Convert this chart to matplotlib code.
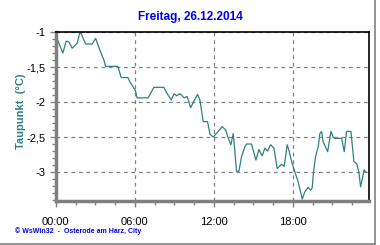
import matplotlib.pyplot as plt
from matplotlib.lines import Line2D
from matplotlib.ticker import MultipleLocator, FuncFormatter

plt.rcParams['font.family'] = 'Liberation Sans'

# Taupunkt readings, time in hours since 00:00
hours = [0.0, 0.15, 0.53, 0.78, 0.99, 1.24, 1.50, 1.62, 1.80, 1.92, 2.26, 2.76,
         3.02, 3.39, 3.65, 3.77, 4.71, 4.96, 5.47, 5.62, 6.05, 6.17, 7.01, 7.44,
         8.20, 8.45, 8.76, 8.98, 9.17, 9.42, 9.74, 9.97, 10.23, 10.76, 10.94,
         11.19, 11.52, 11.70, 11.95, 12.33, 12.63, 12.89, 13.14, 13.29, 13.47,
         13.54, 13.72, 13.90, 14.10, 14.35, 14.48, 14.86, 15.19, 15.42, 15.67,
         15.87, 16.08, 16.31, 16.56, 16.81, 17.14, 17.34, 17.57, 17.70, 17.90,
         18.15, 18.40, 18.58, 18.71, 18.91, 19.16, 19.34, 19.46, 19.57, 19.72,
         19.92, 20.05, 20.18, 20.30, 20.64, 20.76, 20.89, 21.06, 21.19, 21.70,
         21.90, 22.08, 22.41, 22.63, 22.84, 23.01, 23.14, 23.26, 23.41, 23.54]
taupunkt = [-1.08, -1.12, -1.30, -1.13, -1.14, -1.23, -1.18, -1.16, -1.02, -1.02,
            -1.17, -1.17, -1.09, -1.28, -1.40, -1.49, -1.49, -1.65, -1.65, -1.71,
            -1.84, -1.94, -1.94, -1.79, -1.79, -1.88, -1.97, -1.88, -1.91, -1.88,
            -1.94, -1.92, -2.08, -1.89, -1.97, -2.28, -2.28, -2.46, -2.50, -2.42,
            -2.35, -2.40, -2.54, -2.61, -2.45, -2.59, -2.99, -2.99, -2.78, -2.64,
            -2.60, -2.60, -2.83, -2.68, -2.77, -2.66, -2.70, -2.61, -2.66, -2.95,
            -2.89, -2.92, -2.61, -2.69, -2.85, -3.00, -3.14, -3.28, -3.39, -3.28,
            -3.22, -3.26, -3.23, -3.00, -2.78, -2.64, -2.45, -2.42, -2.57, -2.71,
            -2.57, -2.42, -2.50, -2.52, -2.52, -2.71, -2.42, -2.42, -2.85, -2.88,
            -3.00, -3.21, -3.11, -2.97, -3.00]

fig = plt.figure(figsize=(3.8, 2.45), dpi=100)
ax = fig.add_axes([0.147, 0.181, 0.823, 0.688])

ax.plot(hours, taupunkt, color='#2f8080', lw=0.9)

ax.set_xlim(0, 23.75)
ax.set_ylim(-3.41, -1.0)

ax.xaxis.set_major_locator(MultipleLocator(6))
ax.xaxis.set_minor_locator(MultipleLocator(1.5))
ax.xaxis.set_major_formatter(FuncFormatter(lambda v, p: '%02d:00' % int(v)))
ax.yaxis.set_major_locator(MultipleLocator(0.5))
ax.yaxis.set_minor_locator(MultipleLocator(0.1))
ax.yaxis.set_major_formatter(FuncFormatter(lambda v, p: ('%g' % v).replace('.', ',')))

ax.grid(True, which='major', color='#808080', linestyle=(0, (3, 3)), lw=0.9)
ax.tick_params(which='both', direction='out', color='#808080', labelsize=8,
               labelcolor='black')
ax.tick_params(which='major', length=4, width=1)
ax.tick_params(which='minor', length=3, width=1)
ax.tick_params(axis='x', pad=8)

for side in ['left', 'bottom']:
    ax.spines[side].set_color('#808080')
    ax.spines[side].set_linewidth(2.5)
for side in ['top', 'right']:
    ax.spines[side].set_color('black')
    ax.spines[side].set_linewidth(1.2)

ax.set_ylabel('Taupunkt  (°C)', color='#2f8080', fontsize=8, fontweight='bold',
              labelpad=-2)
ax.yaxis.set_label_coords(-0.095, 0.53)

fig.text(0.50, 0.93, 'Freitag, 26.12.2014', color='#0000ee', fontsize=8.5,
         fontweight='bold', ha='center', va='center')
fig.text(0.04, 0.055, '© WsWin32  -  Osterode am Harz, City', color='#0000ee',
         fontsize=5, fontweight='bold', ha='left', va='center')

# outer frame
fig.add_artist(Line2D([0, 0.987], [0.006, 0.006], transform=fig.transFigure,
                      color='#808080', lw=1.2))
fig.add_artist(Line2D([0.987, 0.987], [0.006, 1], transform=fig.transFigure,
                      color='#808080', lw=1.2))

fig.savefig('out.png', dpi=100, facecolor='white')
